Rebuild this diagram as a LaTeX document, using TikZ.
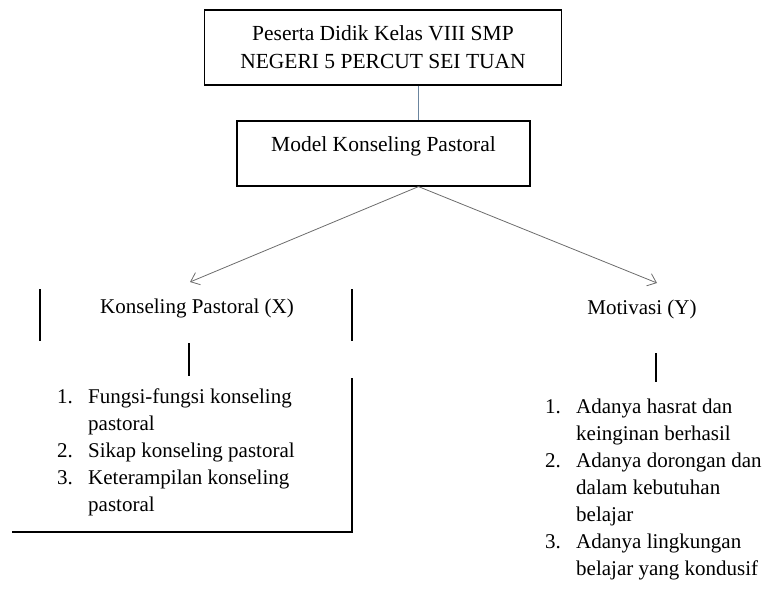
\documentclass[tikz,border=0pt]{standalone}
\usepackage{fontspec}
\setmainfont{Liberation Serif}
\usetikzlibrary{arrows.meta}
\definecolor{linkblue}{rgb}{0.42,0.52,0.62}

\begin{document}
\begin{tikzpicture}[x=1pt, y=-1pt,
    box/.style={draw, line width=1.2pt, align=center, font=\fontsize{21.5}{28}\selectfont},
    headtext/.style={font=\fontsize{21}{27}\selectfont, inner sep=0pt},
    listtext/.style={font=\fontsize{21}{27}\selectfont, inner sep=0pt, anchor=base west},
    arr/.style={-{Straight Barb[length=8pt, width=13pt]}, draw=gray!85!black, line width=0.8pt},
    bar/.style={line width=1.2pt}]
    \useasboundingbox (0,0) rectangle (773,592);
    %boxes
    \node[box, minimum width=357pt, minimum height=75pt] at (383,47.5) (peserta){Peserta Didik Kelas VIII SMP\\NEGERI 5 PERCUT SEI TUAN};
    \node[box, minimum width=293pt, minimum height=65pt] at (383.5,153.5) (model){Model Konseling Pastoral\\[-18pt] \strut};
    \draw[linkblue, line width=0.8pt] ([xshift=35pt]peserta.south) -- ([xshift=35pt]peserta.south |- model.north);
    %variables
    \node[headtext] at (197,308) (kx){Konseling Pastoral (X)};
    \node[headtext] at (642,309) (my){Motivasi (Y)};
    \coordinate (kxtip) at (190,282);
    \coordinate (mytip) at (657,283);
    \draw[arr] ([xshift=35pt]model.south) -- (kxtip);
    \draw[arr] ([xshift=35pt]model.south) -- (mytip);
    %brackets
    \draw[bar] (40,289) -- (40,341);
    \draw[bar] (352,289) -- (352,341);
    \draw[bar] (189,343) -- (189,376);
    \draw[bar] (352,378) -- (352,532) -- (12,532);
    \draw[bar] (656,353) -- (656,382);
    %lists
    \node[listtext] at (57,403) (xlist){\begin{tabular}[t]{@{}p{31pt}@{}l@{}}
      1. & Fungsi-fungsi konseling\\
         & pastoral\\
      2. & Sikap konseling pastoral\\
      3. & Keterampilan konseling\\
         & pastoral
    \end{tabular}};
    \node[listtext] at (545,413) (ylist){\begin{tabular}[t]{@{}p{31pt}@{}l@{}}
      1. & Adanya hasrat dan\\
         & keinginan berhasil\\
      2. & Adanya dorongan dan\\
         & dalam kebutuhan\\
         & belajar\\
      3. & Adanya lingkungan\\
         & belajar yang kondusif
    \end{tabular}};
\end{tikzpicture}
\end{document}
